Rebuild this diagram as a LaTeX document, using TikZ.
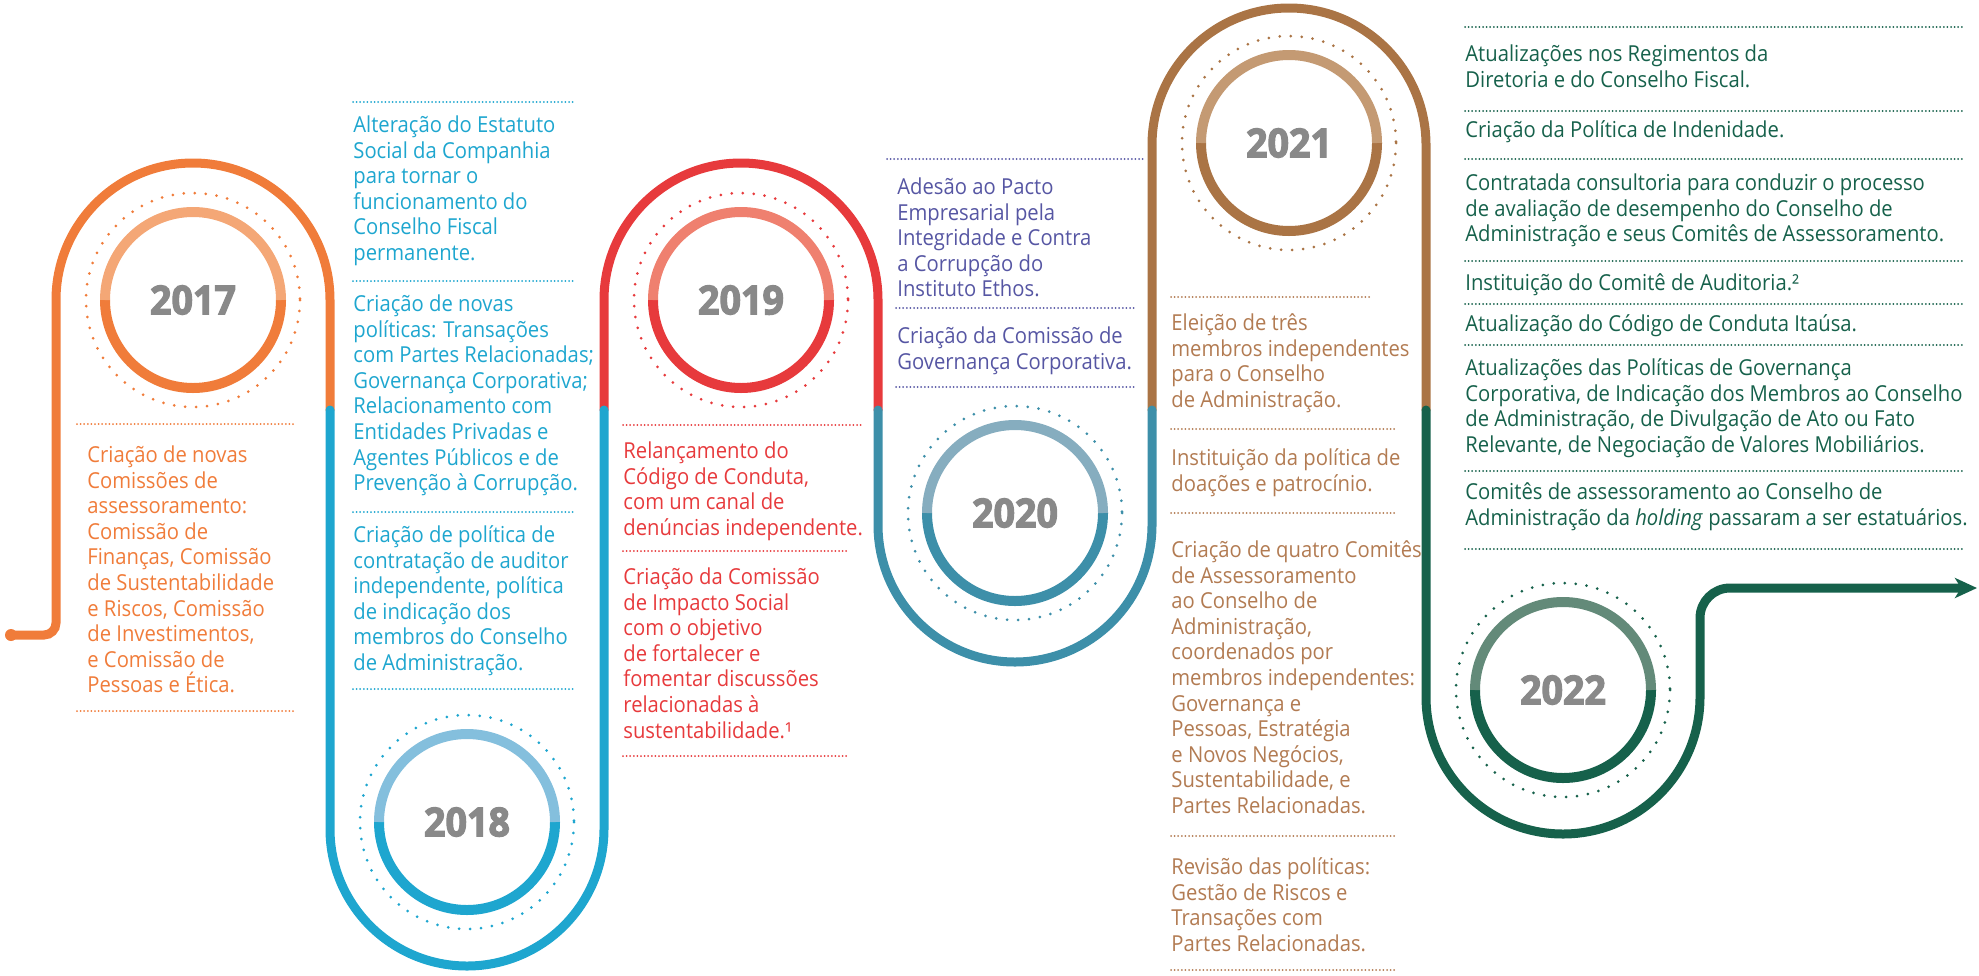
\documentclass[tikz,border=0pt]{standalone}
\usepackage{fontspec}
\setmainfont{Open Sans}[FakeStretch=0.92]
\newfontfamily\yearfont{Open Sans}[FakeStretch=0.94, BoldFeatures={FakeBold=3}]
\usepackage{xcolor}
\usepackage{tikz}
\usetikzlibrary{arrows.meta}

\definecolor{orange17}{HTML}{F07C3A}
\definecolor{orange17light}{HTML}{F4A776}
\definecolor{blue18}{HTML}{1EA6CF}
\definecolor{blue18light}{HTML}{84BFDD}
\definecolor{red19}{HTML}{E73A3C}
\definecolor{red19light}{HTML}{EF806F}
\definecolor{teal20}{HTML}{3D8FA9}
\definecolor{teal20light}{HTML}{86ADBF}
\definecolor{purple20}{HTML}{5656A3}
\definecolor{brown21}{HTML}{AA7445}
\definecolor{brown21light}{HTML}{C49A73}
\definecolor{brown21text}{HTML}{B27B52}
\definecolor{green22}{HTML}{16614B}
\definecolor{green22light}{HTML}{638A79}
\definecolor{yeargray}{HTML}{898989}

\newcommand{\fstrut}{\rule{0pt}{9pt}}

\begin{document}
\begin{tikzpicture}[x=0.5pt, y=-0.5pt,
	track/.style={line width=4.5pt, line cap=round},
	ring/.style={line width=5pt},
	dotring/.style={line width=1.5pt, line cap=round, dash pattern=on 0pt off 5.5pt},
	sep/.style={line width=1pt, line cap=round, dash pattern=on 0pt off 1.8pt},
	year/.style={font=\yearfont\bfseries\fontsize{20pt}{24pt}\selectfont, text=yeargray},
	entry/.style={anchor=north west, inner sep=0pt, align=left, font=\fontsize{11pt}{12.8pt}\selectfont}]
						\useasboundingbox (0,0) rectangle (1979,975);
						
						\coordinate (Start) at (11,635);
						\coordinate (Swap1) at (330,410);
						\coordinate (Swap2) at (604,410);
						\coordinate (Swap3) at (878,410);
						\coordinate (Swap4) at (1152,410);
						\coordinate (Swap5) at (1426,410);
						\coordinate (End) at (1977,588);
						
						\coordinate (R17) at (193,300);
						\coordinate (R18) at (467,822);
						\coordinate (R19) at (741,300);
						\coordinate (R20) at (1015,513);
						\coordinate (R21) at (1289,143);
						\coordinate (R22) at (1563,690);
						
						\fill[orange17] (Start) circle[radius=6];
						\draw[track, orange17] (Start) -- (44,635) arc[start angle=90, end angle=0, radius=12] -- (56,300) arc[start angle=180, end angle=360, radius=137] -- (Swap1);
						\draw[track, red19] (Swap2) -- (604,300) arc[start angle=180, end angle=360, radius=137] -- (Swap3);
						\draw[track, brown21] (Swap4) -- (1152,145) arc[start angle=180, end angle=360, radius=137] -- (Swap5);
						\draw[track, blue18] (Swap1) -- (330,829) arc[start angle=180, end angle=0, radius=137] -- (Swap2);
						\draw[track, teal20] (Swap3) -- (878,525) arc[start angle=180, end angle=0, radius=137] -- (Swap4);
						\draw[track, green22, -{Stealth[length=11pt, width=10pt, inset=3pt]}] (Swap5) -- (1426,697) arc[start angle=180, end angle=0, radius=137] -- (1700,618) arc[start angle=180, end angle=270, radius=30] -- (End);
						
						\draw[dotring, orange17] (R17) circle[radius=107];
						\draw[ring, orange17] (R17) ++(-88,0) arc[start angle=180, end angle=0, radius=88];
						\draw[ring, orange17light] (R17) ++(-88,0) arc[start angle=180, end angle=360, radius=88];
						\node[year] (Y17) at (R17) {2017};
						
						\draw[dotring, blue18] (R18) circle[radius=107];
						\draw[ring, blue18] (R18) ++(-88,0) arc[start angle=180, end angle=0, radius=88];
						\draw[ring, blue18light] (R18) ++(-88,0) arc[start angle=180, end angle=360, radius=88];
						\node[year] (Y18) at (R18) {2018};
						
						\draw[dotring, red19] (R19) circle[radius=107];
						\draw[ring, red19] (R19) ++(-88,0) arc[start angle=180, end angle=0, radius=88];
						\draw[ring, red19light] (R19) ++(-88,0) arc[start angle=180, end angle=360, radius=88];
						\node[year] (Y19) at (R19) {2019};
						
						\draw[dotring, teal20] (R20) circle[radius=107];
						\draw[ring, teal20] (R20) ++(-88,0) arc[start angle=180, end angle=0, radius=88];
						\draw[ring, teal20light] (R20) ++(-88,0) arc[start angle=180, end angle=360, radius=88];
						\node[year] (Y20) at (R20) {2020};
						
						\draw[dotring, brown21] (R21) circle[radius=107];
						\draw[ring, brown21] (R21) ++(-88,0) arc[start angle=180, end angle=0, radius=88];
						\draw[ring, brown21light] (R21) ++(-88,0) arc[start angle=180, end angle=360, radius=88];
						\node[year] (Y21) at (R21) {2021};
						
						\draw[dotring, green22] (R22) circle[radius=107];
						\draw[ring, green22] (R22) ++(-88,0) arc[start angle=180, end angle=0, radius=88];
						\draw[ring, green22light] (R22) ++(-88,0) arc[start angle=180, end angle=360, radius=88];
						\node[year] (Y22) at (R22) {2022};
						
						\draw[sep, orange17] (77,424) -- (293,424);
						\node[entry, text=orange17] (T17) at (87,444) {\fstrut Criação de novas\\Comissões de\\assessoramento:\\Comissão de\\Finanças, Comissão\\de Sustentabilidade\\e Riscos, Comissão\\de Investimentos,\\e Comissão de\\Pessoas e Ética.};
						\draw[sep, orange17] (77,711) -- (293,711);
						
						\draw[sep, blue18] (353,102) -- (575,102);
						\node[entry, text=blue18] (T18a) at (353,114) {\fstrut Alteração do Estatuto\\Social da Companhia\\para tornar o\\funcionamento do\\Conselho Fiscal\\permanente.};
						\draw[sep, blue18] (353,281) -- (575,281);
						\node[entry, text=blue18] (T18b) at (353,293) {\fstrut Criação de novas\\políticas: Transações\\com Partes Relacionadas;\\Governança Corporativa;\\Relacionamento com\\Entidades Privadas e\\Agentes Públicos e de\\Prevenção à Corrupção.};
						\draw[sep, blue18] (353,512) -- (575,512);
						\node[entry, text=blue18] (T18c) at (353,524) {\fstrut Criação de política de\\contratação de auditor\\independente, política\\de indicação dos\\membros do Conselho\\de Administração.};
						\draw[sep, blue18] (353,689) -- (575,689);
						
						\draw[sep, red19] (623,425) -- (862,425);
						\node[entry, text=red19] (T19a) at (623,440) {\fstrut Relançamento do\\Código de Conduta,\\com um canal de\\denúncias independente.};
						\draw[sep, red19] (623,551) -- (847,551);
						\node[entry, text=red19] (T19b) at (623,566) {\fstrut Criação da Comissão\\de Impacto Social\\com o objetivo\\de fortalecer e\\fomentar discussões\\relacionadas à\\sustentabilidade.¹};
						\draw[sep, red19] (623,756) -- (847,756);
						
						\draw[sep, purple20] (887,159) -- (1143,159);
						\node[entry, text=purple20] (T20a) at (897,176) {\fstrut Adesão ao Pacto\\Empresarial pela\\Integridade e Contra\\a Corrupção do\\Instituto Ethos.};
						\draw[sep, purple20] (896,308) -- (1134,308);
						\node[entry, text=purple20] (T20b) at (897,325) {\fstrut Criação da Comissão de\\Governança Corporativa.};
						\draw[sep, purple20] (896,387) -- (1134,387);
						
						\draw[sep, brown21text] (1171,297) -- (1370,297);
						\node[entry, text=brown21text] (T21a) at (1171,312) {\fstrut Eleição de três\\membros independentes\\para o Conselho\\de Administração.};
						\draw[sep, brown21text] (1171,429) -- (1396,429);
						\node[entry, text=brown21text] (T21b) at (1171,447) {\fstrut Instituição da política de\\doações e patrocínio.};
						\draw[sep, brown21text] (1171,513) -- (1396,513);
						\node[entry, text=brown21text] (T21c) at (1171,539) {\fstrut Criação de quatro Comitês\\de Assessoramento\\ao Conselho de\\Administração,\\coordenados por\\membros independentes:\\Governança e\\Pessoas, Estratégia\\e Novos Negócios,\\Sustentabilidade, e\\Partes Relacionadas.};
						\draw[sep, brown21text] (1171,836) -- (1396,836);
						\node[entry, text=brown21text] (T21d) at (1171,856) {\fstrut Revisão das políticas:\\Gestão de Riscos e\\Transações com\\Partes Relacionadas.};
						\draw[sep, brown21text] (1171,970) -- (1396,970);
						
						\draw[sep, green22] (1465,27) -- (1965,27);
						\node[entry, text=green22] (T22a) at (1465,43) {\fstrut Atualizações nos Regimentos da\\Diretoria e do Conselho Fiscal.};
						\draw[sep, green22] (1465,111) -- (1965,111);
						\node[entry, text=green22] (T22b) at (1465,119.5) {\fstrut Criação da Política de Indenidade.};
						\draw[sep, green22] (1465,159) -- (1965,159);
						\node[entry, text=green22] (T22c) at (1465,172) {\fstrut Contratada consultoria para conduzir o processo\\de avaliação de desempenho do Conselho de\\Administração e seus Comitês de Assessoramento.};
						\draw[sep, green22] (1465,261) -- (1965,261);
						\node[entry, text=green22] (T22d) at (1465,272) {\fstrut Instituição do Comitê de Auditoria.²};
						\draw[sep, green22] (1465,304) -- (1965,304);
						\node[entry, text=green22] (T22e) at (1465,313) {\fstrut Atualização do Código de Conduta Itaúsa.};
						\draw[sep, green22] (1465,345) -- (1965,345);
						\node[entry, text=green22] (T22f) at (1465,357) {\fstrut Atualizações das Políticas de Governança\\Corporativa, de Indicação dos Membros ao Conselho\\de Administração, de Divulgação de Ato ou Fato\\Relevante, de Negociação de Valores Mobiliários.};
						\draw[sep, green22] (1465,471) -- (1965,471);
						\node[entry, text=green22] (T22g) at (1465,481) {\fstrut Comitês de assessoramento ao Conselho de\\Administração da \textit{holding} passaram a ser estatuários.};
						\draw[sep, green22] (1465,549) -- (1965,549);
\end{tikzpicture}
\end{document}
